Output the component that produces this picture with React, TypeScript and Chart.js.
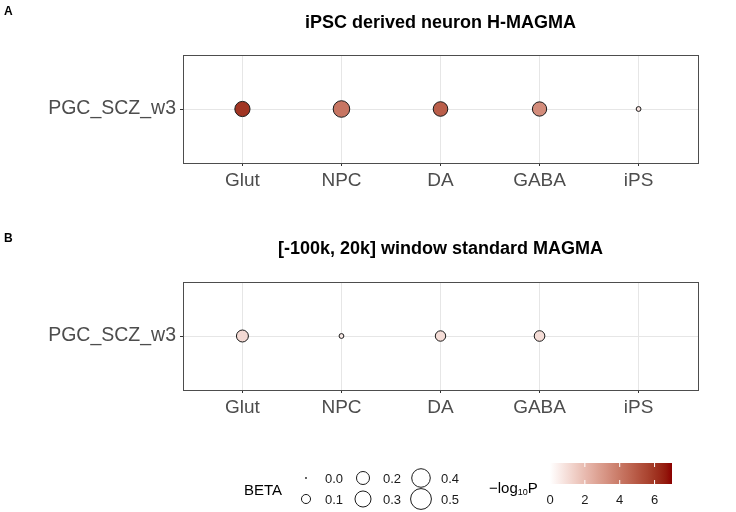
import React, { useEffect, useRef } from "react";
import { Chart, registerables } from "chart.js";
Chart.register(...registerables);

// ---------------- data ----------------
const categories = ["Glut", "NPC", "DA", "GABA", "iPS"];
const traitLabels = ["PGC_SCZ_w3"];
const betaA: (number | null)[] = [0.27, 0.32, 0.25, 0.24, 0.03];
const logPA: (number | null)[] = [6.0, 4.1, 4.8, 3.4, 0.8];
const betaB: (number | null)[] = [0.17, 0.03, 0.13, 0.135, null];
const logPB: (number | null)[] = [1.1, 0.6, 1.0, 1.0, null];
const sizeBreaks = [0.0, 0.1, 0.2, 0.3, 0.4, 0.5];
const colorTicks = [0, 2, 4, 6];
const colorLimits = [0, 7];
const titleA = "iPSC derived neuron H-MAGMA";
const titleB = "[-100k, 20k] window standard MAGMA";

const FONT = '"Liberation Sans", Arial, Helvetica, sans-serif';

// ---------------- helpers ----------------
function s2l(c: number) {
  c /= 255;
  return c <= 0.04045 ? c / 12.92 : Math.pow((c + 0.055) / 1.055, 2.4);
}
function l2s(c: number) {
  const v = c <= 0.0031308 ? 12.92 * c : 1.055 * Math.pow(c, 1 / 2.4) - 0.055;
  return Math.round(Math.max(0, Math.min(1, v)) * 255);
}
const Xn = 0.95047, Yn = 1.0, Zn = 1.08883;
function f(t: number) {
  return t > 0.008856 ? Math.cbrt(t) : 7.787 * t + 16 / 116;
}
function finv(t: number) {
  return t > 0.206893 ? t * t * t : (t - 16 / 116) / 7.787;
}
function rgbToLab(r: number, g: number, b: number) {
  const R = s2l(r), G = s2l(g), B = s2l(b);
  const X = 0.4124 * R + 0.3576 * G + 0.1805 * B;
  const Y = 0.2126 * R + 0.7152 * G + 0.0722 * B;
  const Z = 0.0193 * R + 0.1192 * G + 0.9505 * B;
  const fx = f(X / Xn), fy = f(Y / Yn), fz = f(Z / Zn);
  return [116 * fy - 16, 500 * (fx - fy), 200 * (fy - fz)];
}
function labToRgb(L: number, a: number, b: number) {
  const fy = (L + 16) / 116;
  const fx = fy + a / 500;
  const fz = fy - b / 200;
  const X = Xn * finv(fx), Y = Yn * finv(fy), Z = Zn * finv(fz);
  const R = 3.2406 * X - 1.5372 * Y - 0.4986 * Z;
  const G = -0.9689 * X + 1.8758 * Y + 0.0415 * Z;
  const B = 0.0557 * X - 0.204 * Y + 1.057 * Z;
  return `rgb(${l2s(R)},${l2s(G)},${l2s(B)})`;
}
const LOW = rgbToLab(255, 255, 255);
const HIGH = rgbToLab(139, 0, 0);
function colorFor(v: number) {
  let t = (v - colorLimits[0]) / (colorLimits[1] - colorLimits[0]);
  t = Math.max(0, Math.min(1, t));
  return labToRgb(
    LOW[0] + (HIGH[0] - LOW[0]) * t,
    LOW[1] + (HIGH[1] - LOW[1]) * t,
    LOW[2] + (HIGH[2] - LOW[2]) * t
  );
}
function radiusFor(beta: number) {
  return Math.max(0.6, 15 * Math.sqrt(Math.max(0, beta)) - 0.2);
}

// ---------------- panel ----------------
const boxPlugin = {
  id: "box",
  afterDatasetsDraw(chart: any) {
    const { ctx, chartArea } = chart;
    ctx.save();
    ctx.strokeStyle = "#4d4d4d";
    ctx.lineWidth = 1;
    ctx.strokeRect(
      Math.round(chartArea.left) + 0.5,
      Math.round(chartArea.top) + 0.5,
      Math.round(chartArea.right - chartArea.left),
      Math.round(chartArea.bottom - chartArea.top)
    );
    ctx.restore();
  },
};

function Panel(props: {
  betas: (number | null)[];
  logps: (number | null)[];
  top: number;
  height: number;
  padTop: number;
}) {
  const ref = useRef<HTMLCanvasElement | null>(null);
  useEffect(() => {
    if (!ref.current) return;
    const pts: any[] = [];
    const cols: string[] = [];
    props.betas.forEach((b, i) => {
      const p = props.logps[i];
      if (b === null || p === null) return;
      pts.push({ x: i, y: 1, r: radiusFor(b) });
      cols.push(colorFor(p));
    });
    const padBottom = props.height - props.padTop - 108 - 30;
    const chart = new Chart(ref.current, {
      type: "bubble",
      data: {
        datasets: [
          {
            data: pts,
            backgroundColor: cols,
            borderColor: "#1a1a1a",
            borderWidth: 1,
          },
        ],
      },
      options: {
        responsive: false,
        animation: false,
        clip: false as any,
        layout: { padding: { left: 0, right: 38, top: props.padTop, bottom: padBottom } },
        plugins: { legend: { display: false }, tooltip: { enabled: false }, title: { display: false } },
        scales: {
          x: {
            type: "linear",
            min: -0.6,
            max: 4.6,
            afterBuildTicks: (s: any) => {
              s.ticks = categories.map((_, i) => ({ value: i }));
            },
            afterFit: (s: any) => {
              s.height = 30;
            },
            ticks: {
              callback: (v: any) => categories[v as number] ?? "",
              autoSkip: false,
              maxRotation: 0,
              color: "#4d4d4d",
              font: { family: FONT, size: 19 },
              padding: 3,
            },
            grid: { color: "#e6e6e6", lineWidth: 1, tickLength: 3, tickColor: "#333333" },
            border: { display: false },
          },
          y: {
            type: "linear",
            min: 0,
            max: 2,
            afterBuildTicks: (s: any) => {
              s.ticks = traitLabels.map((_, i) => ({ value: i + 1 }));
            },
            afterFit: (s: any) => {
              s.width = 183;
            },
            ticks: {
              callback: (v: any) => traitLabels[(v as number) - 1] ?? "",
              color: "#4d4d4d",
              font: { family: FONT, size: 19.5 },
              padding: 4,
            },
            grid: { color: "#e6e6e6", lineWidth: 1, tickLength: 3, tickColor: "#333333" },
            border: { display: false },
          },
        },
      },
      plugins: [boxPlugin],
    });
    return () => chart.destroy();
  }, []);
  return (
    <canvas
      ref={ref}
      width={736}
      height={props.height}
      style={{ position: "absolute", left: 0, top: props.top, width: 736, height: props.height }}
    />
  );
}

// ---------------- legend ----------------
function Legend() {
  const rows = [478, 499];
  const symX = [306, 363, 421];
  const labX = [325, 383, 441];
  const barX0 = 550, barX1 = 672, barY0 = 463, barY1 = 484;
  const stops = [];
  for (let i = 0; i <= 20; i++) {
    const v = colorLimits[0] + ((colorLimits[1] - colorLimits[0]) * i) / 20;
    stops.push(<stop key={i} offset={`${i * 5}%`} stopColor={colorFor(v)} />);
  }
  const xOf = (v: number) => barX0 + ((v - colorLimits[0]) / (colorLimits[1] - colorLimits[0])) * (barX1 - barX0);
  return (
    <svg width={736} height={512} style={{ position: "absolute", left: 0, top: 0 }} fontFamily={FONT}>
      <defs>
        <linearGradient id="cbar" x1="0" x2="1" y1="0" y2="0">
          {stops}
        </linearGradient>
      </defs>
      <text x={244} y={489} fontSize={15} dominantBaseline="central" fill="#000">
        BETA
      </text>
      {sizeBreaks.map((b, i) => {
        const col = Math.floor(i / 2);
        const row = i % 2;
        return (
          <g key={i}>
            <circle cx={symX[col]} cy={rows[row]} r={radiusFor(b)} fill="#fff" stroke="#1a1a1a" strokeWidth={1} />
            <text x={labX[col]} y={rows[row]} fontSize={13} dominantBaseline="central" fill="#1a1a1a">
              {b.toFixed(1)}
            </text>
          </g>
        );
      })}
      <text x={489} y={487} fontSize={15} dominantBaseline="central" fill="#000">
        <tspan>−log</tspan>
        <tspan fontSize={9} dy={5}>10</tspan>
        <tspan dy={-5}>P</tspan>
      </text>
      <rect x={barX0} y={barY0} width={barX1 - barX0} height={barY1 - barY0} fill="url(#cbar)" />
      {colorTicks.map((t) => (
        <g key={t}>
          {t > colorLimits[0] && (
            <>
              <line x1={xOf(t)} x2={xOf(t)} y1={barY0} y2={barY0 + 4} stroke="#fff" strokeWidth={1} />
              <line x1={xOf(t)} x2={xOf(t)} y1={barY1 - 4} y2={barY1} stroke="#fff" strokeWidth={1} />
            </>
          )}
          <text x={xOf(t)} y={499} fontSize={13} textAnchor="middle" dominantBaseline="central" fill="#1a1a1a">
            {t}
          </text>
        </g>
      ))}
    </svg>
  );
}

export default function App() {
  const titleStyle: React.CSSProperties = {
    position: "absolute",
    left: 183,
    width: 515,
    textAlign: "center",
    fontFamily: FONT,
    fontWeight: "bold",
    fontSize: 18,
    lineHeight: "20px",
    color: "#000",
    whiteSpace: "nowrap",
  };
  const tagStyle: React.CSSProperties = {
    position: "absolute",
    left: 4,
    fontFamily: FONT,
    fontWeight: "bold",
    fontSize: 12,
    lineHeight: "14px",
    color: "#000",
  };
  return (
    <div style={{ position: "absolute", left: 0, top: 0, width: 736, height: 512, background: "#fff", overflow: "hidden" }}>
      <Panel betas={betaA} logps={logPA} top={30} height={175} padTop={25} />
      <Panel betas={betaB} logps={logPB} top={260} height={175} padTop={22} />
      <Legend />
      <div style={{ ...titleStyle, top: 12 }}>{titleA}</div>
      <div style={{ ...titleStyle, top: 238 }}>{titleB}</div>
      <div style={{ ...tagStyle, top: 4 }}>A</div>
      <div style={{ ...tagStyle, top: 231 }}>B</div>
    </div>
  );
}
